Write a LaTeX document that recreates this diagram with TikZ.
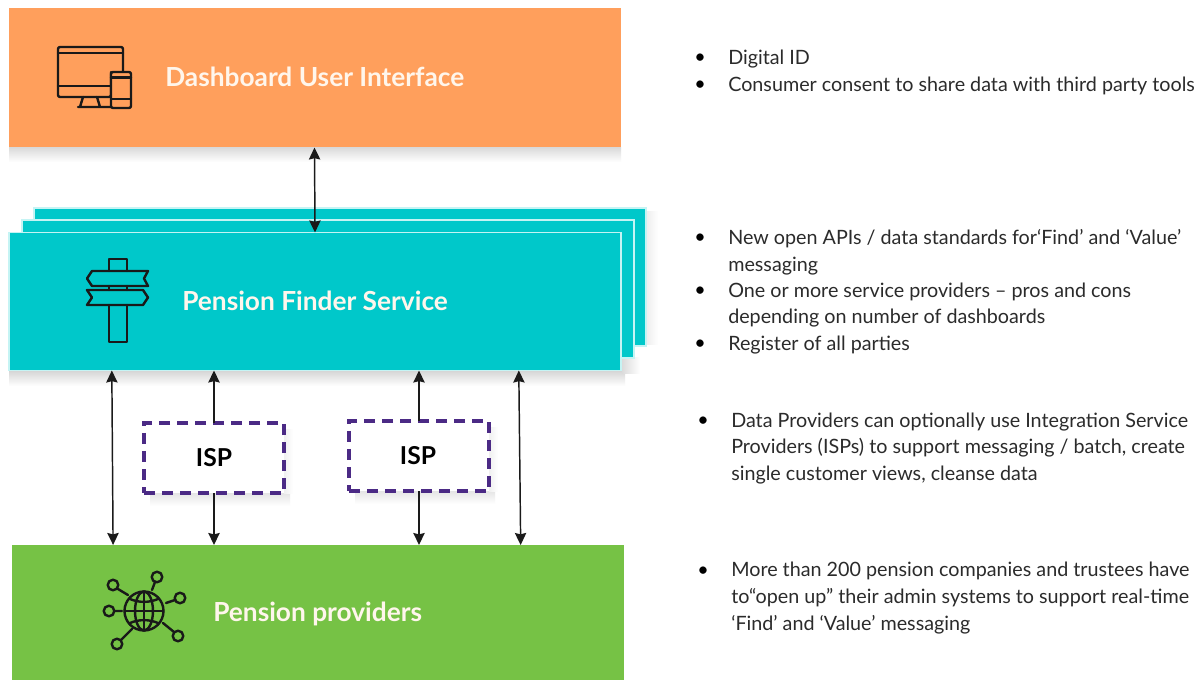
\documentclass[tikz,border=0pt]{standalone}
\usepackage{fontspec}
\setmainfont{Lato}
\usetikzlibrary{arrows.meta,calc}
\definecolor{orangebox}{HTML}{FF9F5C}
\definecolor{tealbox}{HTML}{00C8CA}
\definecolor{greenbox}{HTML}{76C245}
\definecolor{paleedge}{HTML}{C5F4F4}
\definecolor{ispedge}{HTML}{4B2A85}
\definecolor{creamtext}{HTML}{FFF6EC}
\definecolor{inkline}{HTML}{1A1A1A}
\definecolor{bodytext}{HTML}{2B2B2B}
\tikzset{
  px/.style={x=0.75pt,y=-0.75pt},
  box/.style={rectangle,inner sep=0pt,outer sep=0pt,minimum width=459pt,draw=none},
  tealstack/.style={box,fill=tealbox,draw=paleedge,line width=1pt,minimum height=103.5pt},
  boxlabel/.style={font=\fontsize{19.7pt}{22pt}\selectfont\bfseries,text=creamtext,inner sep=0pt,anchor=west},
  ispbox/.style={rectangle,inner sep=0pt,outer sep=0pt,minimum width=105pt,minimum height=52.5pt,fill=white,draw=ispedge,line width=3pt,dash pattern=on 8pt off 5.5pt},
  isplabel/.style={font=\fontsize{18.5pt}{20pt}\selectfont\bfseries,text=black,inner sep=0pt},
  bodytxt/.style={font=\fontsize{14.8pt}{19.9pt}\selectfont,text=bodytext,inner sep=0pt,anchor=west,align=left},
  bulletmark/.style={font=\fontsize{14.8pt}{19.9pt}\selectfont,text=black,inner sep=0pt},
  link/.style={draw=inkline,line width=1.1pt,-{Stealth[length=9pt,width=8.5pt,inset=1pt]}},
  dlink/.style={draw=inkline,line width=1.1pt,{Stealth[length=9pt,width=8.5pt,inset=1pt]}-{Stealth[length=9pt,width=8.5pt,inset=1pt]}},
  icon/.style={draw=black!90,line width=1.8pt,line join=round,line cap=round},
}
\begin{document}
\begin{tikzpicture}[px]
\useasboundingbox (0,0) rectangle (1202,680);
\fill[white] (0,0) rectangle (1202,680);
% soft shadows
\shade[top color=black!14,bottom color=white] (9,148) rectangle (621,162);
\shade[top color=black!16,bottom color=white] (9,371) rectangle (625,386);
\shade[left color=black!7,right color=white] (646,212) rectangle (658,345);
\shade[left color=black!14,right color=white] (622,358) rectangle (640,374);
\shade[top color=black!10,bottom color=white] (150,493) rectangle (290,506);
\shade[top color=black!10,bottom color=white] (355,491) rectangle (495,504);
\shade[left color=black!6,right color=white] (284,430) rectangle (293,493);
\shade[left color=black!6,right color=white] (489,428) rectangle (498,491);
% main boxes
\node[box,fill=orangebox,minimum height=104.25pt] (dash) at (314.5,78) {};
\node[tealstack] (back) at (340,277) {};
\node[tealstack] (mid) at (328,289) {};
\node[tealstack] (finder) at (315,301.5) {};
\node[box,fill=greenbox,minimum height=101.25pt] (prov) at (317.5,612.5) {};
\node[ispbox] (ispa) at (214,458) {};
\node[ispbox] (ispb) at (419,456) {};
% box labels
\node[boxlabel] (dashlabel) at (165,77) {Dashboard User Interface};
\node[boxlabel] (finderlabel) at (182,301) {Pension Finder Service};
\node[boxlabel] (provlabel) at (213,614) {Pension providers};
\node[isplabel] (ispalabel) at (214,458) {ISP};
\node[isplabel] (ispblabel) at (418,456) {ISP};
% connectors
\draw[dlink] (dash.south) -- (finder.north);
\draw[dlink] ($(finder.south west)!0.168!(finder.south east)$) -- ($(prov.north west)!0.166!(prov.north east)$);
\draw[dlink] ($(finder.south west)!0.833!(finder.south east)$) -- ($(prov.north west)!0.832!(prov.north east)$);
\draw[link] (ispa.north) -- (ispa.north |- finder.south);
\draw[link] (ispa.south) -- (ispa.south |- prov.north);
\draw[link] (ispb.north) -- (ispb.north |- finder.south);
\draw[link] (ispb.south) -- (ispb.south |- prov.north);
% monitor icon
\draw[icon,rounded corners=1.5pt] (111,72) -- (111,97) -- (58,97) -- (58,47) -- (123,47) -- (123,72);
\draw[icon] (58,53) -- (123,53) (58,86) -- (111,86);
\draw[icon] (83,97) -- (80,107) (97,97) -- (100,107) (78,107) -- (111,107);
\draw[icon,fill=orangebox,rounded corners=1.5pt] (111,72) rectangle (131,108);
\draw[icon] (111,77.5) -- (131,77.5) (111,99) -- (131,99);
% signpost icon
\draw[icon] (109,271) -- (109,259) -- (127,259) -- (127,271);
\draw[icon] (109,286) -- (109,290) (127,286) -- (127,290);
\draw[icon] (109,305) -- (109,342) -- (127,342) -- (127,305);
\draw[icon] (92,271) -- (148,271) -- (144,278.5) -- (148,286) -- (92,286) -- (87,278.5) -- cycle;
\draw[icon] (87,290) -- (143,290) -- (148,297.5) -- (143,305) -- (87,305) -- (92,297.5) -- cycle;
% globe icon
\draw[icon] (144,611) circle [radius=19.5];
\draw[icon] (144,611) ellipse [x radius=9,y radius=19.5];
\draw[icon] (144,591.5) -- (144,630.5) (124.5,611) -- (163.5,611);
\draw[icon] (129,598.5) .. controls (138,603) and (150,603) .. (159,598.5);
\draw[icon] (129,623.5) .. controls (138,619) and (150,619) .. (159,623.5);
\draw[icon] (113,585) circle [radius=5.3] (118,589) -- (128,595);
\draw[icon] (157,577) circle [radius=5.3] (155,582) -- (152,590);
\draw[icon] (180,598) circle [radius=5.3] (175,600) -- (166,603);
\draw[icon] (109,611) circle [radius=5.3] (115,611) -- (122,611);
\draw[icon] (117,644) circle [radius=5.3] (121,640) -- (132,629);
\draw[icon] (178,636) circle [radius=5.3] (174,632) -- (163,623);
% right-hand text
\node[bulletmark] (b1) at (700,59) {•};
\node[bodytxt] (t1) at (728,59) {Digital ID};
\node[bulletmark] (b2) at (700,86) {•};
\node[bodytxt] (t2) at (728,86) {Consumer consent to share data with third party tools};
\node[bulletmark] (b3) at (700,239) {•};
\node[bodytxt] (t3) at (728,252.5) {New open APIs / data standards for‘Find’ and ‘Value’\\messaging};
\node[bulletmark] (b4) at (700,292) {•};
\node[bodytxt] (t4) at (728,305) {One or more service providers – pros and cons\\depending on number of dashboards};
\node[bulletmark] (b5) at (700,345) {•};
\node[bodytxt] (t5) at (728,345) {Register of all parties};
\node[bulletmark] (b6) at (703,422) {•};
\node[bodytxt] (t6) at (731,448.5) {Data Providers can optionally use Integration Service\\Providers (ISPs) to support messaging / batch, create\\single customer views, cleanse data};
\node[bulletmark] (b7) at (703,572) {•};
\node[bodytxt] (t7) at (731,598) {More than 200 pension companies and trustees have\\to“open up” their admin systems to support real-time\\‘Find’ and ‘Value’ messaging};
\end{tikzpicture}
\end{document}
